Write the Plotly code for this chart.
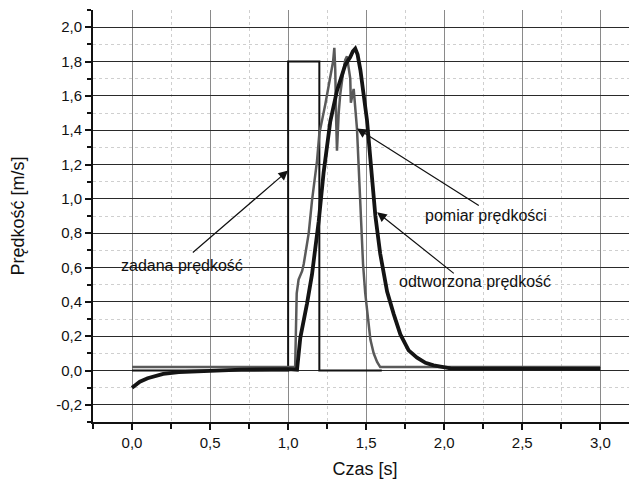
import plotly.graph_objects as go

# ---- data ----
# set speed ("zadana prędkość"): rectangular pulse
t_set = [0.0, 1.0, 1.0, 1.2, 1.2, 1.6]
v_set = [0.0, 0.0, 1.8, 1.8, 0.0, 0.0]

# measured speed ("pomiar prędkości"), grey curve
t_meas = [0.0, 0.5, 1.0, 1.045, 1.055, 1.067, 1.09, 1.10, 1.132, 1.153, 1.185, 1.20,
          1.238, 1.27, 1.288, 1.296, 1.302, 1.308, 1.313, 1.324, 1.334, 1.35, 1.366,
          1.377, 1.388, 1.398, 1.402, 1.41, 1.42, 1.441, 1.463, 1.48, 1.494, 1.51,
          1.527, 1.548, 1.57, 1.59, 2.0, 2.5, 3.0]
v_meas = [0.02, 0.02, 0.02, 0.02, 0.45, 0.53, 0.58, 0.62, 0.80, 0.99, 1.22, 1.38,
          1.55, 1.72, 1.80, 1.88, 1.75, 1.45, 1.28, 1.50, 1.61, 1.72, 1.81,
          1.83, 1.76, 1.70, 1.56, 1.60, 1.64, 1.41, 1.00, 0.62, 0.45, 0.30,
          0.18, 0.10, 0.05, 0.02, 0.02, 0.02, 0.02]

# reconstructed speed ("odtworzona prędkość"), thick black curve
t_rec = [0.0, 0.05, 0.1, 0.15, 0.2, 0.3, 0.4, 0.5, 0.7, 1.0, 1.057, 1.078, 1.10,
         1.121, 1.153, 1.196, 1.227, 1.27, 1.313, 1.366, 1.398, 1.415, 1.43, 1.445,
         1.463, 1.484, 1.505, 1.53, 1.559, 1.59, 1.612, 1.634, 1.676, 1.719, 1.772,
         1.826, 1.88, 1.932, 2.04, 2.3, 2.6, 3.0]
v_rec = [-0.10, -0.065, -0.045, -0.03, -0.02, -0.01, -0.005, 0.0, 0.005, 0.008, 0.005,
         0.19, 0.28, 0.39, 0.56, 0.87, 1.15, 1.45, 1.63, 1.78, 1.826, 1.86, 1.875, 1.84,
         1.75, 1.60, 1.46, 1.20, 0.90, 0.68, 0.56, 0.46, 0.33, 0.21, 0.117,
         0.075, 0.045, 0.03, 0.012, 0.01, 0.01, 0.01]

x_ticks = [0.0, 0.5, 1.0, 1.5, 2.0, 2.5, 3.0]
x_tick_labels = ["0,0", "0,5", "1,0", "1,5", "2,0", "2,5", "3,0"]
y_ticks = [-0.2, 0.0, 0.2, 0.4, 0.6, 0.8, 1.0, 1.2, 1.4, 1.6, 1.8, 2.0]
y_tick_labels = ["-0,2", "0,0", "0,2", "0,4", "0,6", "0,8", "1,0", "1,2",
                 "1,4", "1,6", "1,8", "2,0"]

x_title = "Czas [s]"
y_title = "Prędkość [m/s]"

FONT = "Liberation Sans, Arial, sans-serif"

fig = go.Figure()
fig.add_trace(go.Scatter(x=t_set, y=v_set, mode="lines",
                         line=dict(color="#111111", width=2), name="zadana prędkość"))
fig.add_trace(go.Scatter(x=t_meas, y=v_meas, mode="lines",
                         line=dict(color="#5a5a5a", width=2.5), name="pomiar prędkości"))
fig.add_trace(go.Scatter(x=t_rec, y=v_rec, mode="lines",
                         line=dict(color="#141414", width=3.8), name="odtworzona prędkość"))

# arrows (head, tail) in data coordinates and their labels
arrows = [
    dict(x=1.0, y=1.165, ax=0.38, ay=0.68),
    dict(x=1.441, y=1.41, ax=2.231, ay=0.956),
    dict(x=1.570, y=0.922, ax=2.071, ay=0.559),
]
for a in arrows:
    fig.add_annotation(x=a["x"], y=a["y"], ax=a["ax"], ay=a["ay"],
                       xref="x", yref="y", axref="x", ayref="y",
                       text="", showarrow=True, arrowhead=2, arrowsize=1.6,
                       arrowwidth=1.2, arrowcolor="#111111", standoff=0)

labels = [
    dict(x=0.317, y=0.612, text="zadana prędkość"),
    dict(x=2.265, y=0.903, text="pomiar prędkości"),
    dict(x=2.196, y=0.519, text="odtworzona prędkość"),
]
for l in labels:
    fig.add_annotation(x=l["x"], y=l["y"], xref="x", yref="y", text=l["text"],
                       showarrow=False, font=dict(family=FONT, size=16, color="#111111"),
                       xanchor="center", yanchor="middle")

# the page body adds an 8 px margin, so the figure is sized to fill the rest
fig.update_layout(
    width=629, height=478,
    margin=dict(l=85, r=0, t=2, b=64),
    paper_bgcolor="white", plot_bgcolor="white",
    showlegend=False,
    font=dict(family=FONT, color="#111111"),
)

fig.update_xaxes(
    range=[-0.25, 3.235],
    tickmode="array", tickvals=x_ticks, ticktext=x_tick_labels,
    tickfont=dict(size=15, family=FONT, color="#111111"),
    ticks="outside", ticklen=6, tickwidth=1.5, tickcolor="#111111",
    showline=True, linewidth=2, linecolor="#111111",
    showgrid=True, gridcolor="#8a8a8a", gridwidth=1.3,
    zeroline=False,
    minor=dict(tickmode="linear", tick0=0, dtick=0.25, ticks="outside", ticklen=5,
               tickwidth=1.5, tickcolor="#111111",
               showgrid=True, gridcolor="#cfcfcf", griddash="dot", gridwidth=1),
    title=dict(text=x_title, font=dict(size=18, family=FONT, color="#111111"), standoff=12),
)
fig.update_yaxes(
    range=[-0.3, 2.1],
    tickmode="array", tickvals=y_ticks, ticktext=y_tick_labels,
    tickfont=dict(size=15, family=FONT, color="#111111"),
    ticks="outside", ticklen=6, tickwidth=1.5, tickcolor="#111111",
    showline=True, linewidth=2, linecolor="#111111",
    showgrid=True, gridcolor="#2a2a2a", gridwidth=1,
    zeroline=False,
    minor=dict(tickmode="linear", tick0=0, dtick=0.1, ticks="outside", ticklen=4,
               tickwidth=1.5, tickcolor="#111111",
               showgrid=True, gridcolor="#cfcfcf", griddash="dot", gridwidth=1),
    title=dict(text=y_title, font=dict(size=18, family=FONT, color="#111111"), standoff=29),
)

fig.write_html("out.html")
